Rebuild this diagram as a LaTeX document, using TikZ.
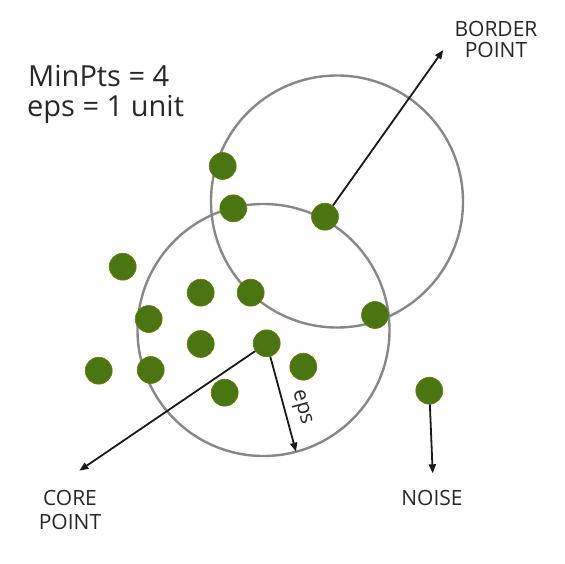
\documentclass[tikz,border=0pt]{standalone}
\usepackage{fontspec}
\setmainfont{Open Sans}
\usetikzlibrary{arrows.meta}
\definecolor{dotgreen}{RGB}{74,118,18}
\definecolor{ringgray}{RGB}{135,135,135}
\definecolor{txt}{RGB}{40,40,40}
\tikzset{
  pt/.style={circle,fill=dotgreen,draw=dotgreen!80!orange,line width=0.6pt,minimum size=27pt,inner sep=0pt},
  ring/.style={draw=ringgray,line width=2.4pt},
  arr/.style={draw=black!90,line width=1.8pt,-{Triangle[length=9pt,width=7pt]}},
  lbl/.style={text=txt,font=\fontsize{21}{24}\selectfont,align=center,inner sep=0pt},
  big/.style={text=txt,font=\fontsize{29}{30}\selectfont,inner sep=0pt,anchor=base west}
}
\begin{document}
\begin{tikzpicture}[x=1pt,y=-1pt]
\useasboundingbox (0,0) rectangle (564,564);
\fill[white] (0,0) rectangle (564,564);
% circles
\draw[ring] (337,201.5) circle[radius=126];
\draw[ring] (263.5,330) circle[radius=126];
% texts
\node[big] (t1) at (28,87) {MinPts = 4};
\node[big] (t2) at (27,117) {eps = 1 unit};
\node[lbl,anchor=base] (bl1) at (496,37) {BORDER};
\node[lbl,anchor=base] (bl2) at (496,58) {POINT};
\node[lbl,anchor=base] (cl1) at (70,505) {CORE};
\node[lbl,anchor=base] (cl2) at (70,529) {POINT};
\node[lbl,anchor=base] (nl) at (432,505) {NOISE};
% tip coordinates
\coordinate (btip) at (443.3,50);
\coordinate (ctip) at (79.3,470.7);
\coordinate (etip) at (296,451.7);
\coordinate (ntip) at (432.7,473.3);
% points
\node[pt] (p1) at (222.7,166) {};
\node[pt] (p2) at (233.3,208.3) {};
\node[pt] (border) at (325,216.7) {};
\node[pt] (p4) at (122.7,266.7) {};
\node[pt] (p5) at (200.7,292.7) {};
\node[pt] (p6) at (250.7,292.7) {};
\node[pt] (p7) at (148.7,319) {};
\node[pt] (p8) at (375,315) {};
\node[pt] (p9) at (200.7,344) {};
\node[pt] (core) at (266.7,343.3) {};
\node[pt] (p11) at (98.7,370.7) {};
\node[pt] (p12) at (150.7,370) {};
\node[pt] (p13) at (303.3,366.7) {};
\node[pt] (p14) at (224.7,392.7) {};
\node[pt] (noise) at (429.3,390.7) {};
% arrows
\draw[arr] (border) -- (btip);
\draw[arr] (core) -- (ctip);
\draw[arr] (core) -- (etip) node[pos=0.58,sloped,above=7pt,text=txt,font=\fontsize{21}{22}\selectfont,inner sep=0pt] (eps) {eps};
\draw[arr] (noise) -- (ntip);
\end{tikzpicture}
\end{document}
